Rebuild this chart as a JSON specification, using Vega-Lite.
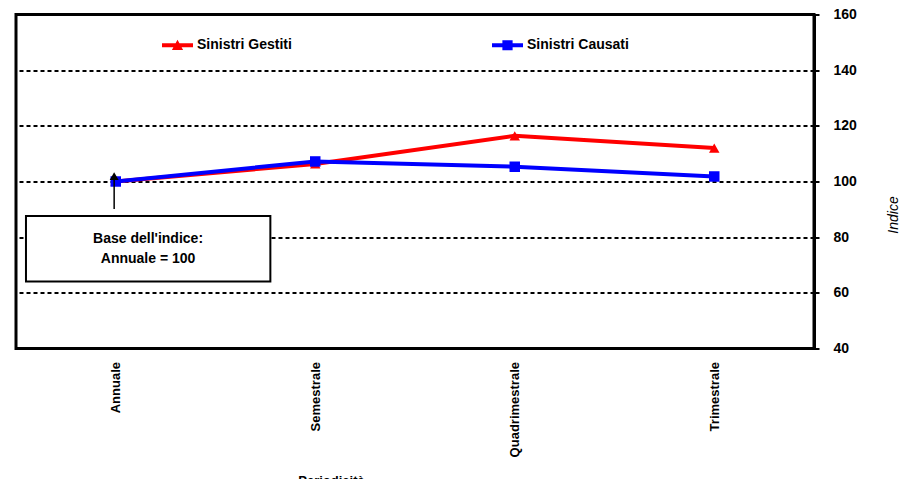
{
  "$schema": "https://vega.github.io/schema/vega-lite/v6.json",
  "width": 798,
  "height": 334,
  "autosize": {"type": "none"},
  "padding": {"left": 16, "top": 14.5, "right": 91, "bottom": 130.5},
  "background": "white",
  "config": {
    "font": "Liberation Sans",
    "view": {"stroke": "black", "strokeWidth": 3}
  },
  "datasets": {
    "serie": [
      {"periodo": "Annuale", "serie": "Sinistri Gestiti", "indice": 100},
      {"periodo": "Semestrale", "serie": "Sinistri Gestiti", "indice": 106.3},
      {"periodo": "Quadrimestrale", "serie": "Sinistri Gestiti", "indice": 116.4},
      {"periodo": "Trimestrale", "serie": "Sinistri Gestiti", "indice": 112.0},
      {"periodo": "Annuale", "serie": "Sinistri Causati", "indice": 100},
      {"periodo": "Semestrale", "serie": "Sinistri Causati", "indice": 107.2},
      {"periodo": "Quadrimestrale", "serie": "Sinistri Causati", "indice": 105.3},
      {"periodo": "Trimestrale", "serie": "Sinistri Causati", "indice": 101.8}
    ],
    "riquadro": [{"x0": 0.05, "x1": 1.275, "y0": 64.1, "y1": 87.6}],
    "testo": [
      {"tx": 0.662, "ty": 79.3, "riga": "Base dell'indice:"},
      {"tx": 0.662, "ty": 72.2, "riga": "Annuale = 100"}
    ],
    "freccia": [{"ax": 0.492, "ay0": 90.1, "ay1": 101.5, "punta": 101.9}]
  },
  "layer": [
    {
      "data": {"name": "serie"},
      "encoding": {
        "x": {
          "field": "periodo",
          "type": "nominal",
          "sort": ["Annuale", "Semestrale", "Quadrimestrale", "Trimestrale"],
          "scale": {"type": "point", "padding": 0.5},
          "axis": {
            "labelAngle": 270,
            "labelFontWeight": "bold",
            "labelFontSize": 13,
            "labelColor": "black",
            "ticks": false,
            "domain": false,
            "grid": false,
            "labelPadding": 13,
            "title": "Periodicità",
            "titleFontWeight": "bold",
            "titleFontSize": 13,
            "titleColor": "black",
            "titleX": 315,
            "titleY": 126,
            "titleAlign": "center",
            "titleBaseline": "top"
          }
        },
        "y": {
          "field": "indice",
          "type": "quantitative",
          "scale": {"domain": [40, 160], "nice": false, "zero": false},
          "axis": {
            "orient": "right",
            "values": [40, 60, 80, 100, 120, 140, 160],
            "grid": true,
            "gridColor": "black",
            "gridWidth": 2,
            "gridDash": [4, 3],
            "gridOpacity": {"condition": {"test": "datum.value == 40 || datum.value == 160", "value": 0}, "value": 1},
            "domainColor": "black",
            "domainWidth": 3,
            "tickColor": "black",
            "tickWidth": 2,
            "tickSize": 5,
            "labelPadding": 14,
            "labelFontSize": 14,
            "labelFontWeight": "bold",
            "labelColor": "black",
            "labelFlush": false,
            "labelOverlap": false,
            "title": "Indice",
            "titleFontStyle": "italic",
            "titleFontWeight": "normal",
            "titleFontSize": 14,
            "titleColor": "black",
            "titleAngle": 270,
            "titleX": 79,
            "titleY": 200,
            "titleAlign": "center",
            "titleBaseline": "middle"
          }
        },
        "color": {
          "field": "serie",
          "type": "nominal",
          "scale": {"domain": ["Sinistri Gestiti", "Sinistri Causati"], "range": ["#ff0000", "#0000ff"]},
          "legend": {
            "orient": "none",
            "legendX": 146,
            "legendY": 15,
            "direction": "horizontal",
            "title": null,
            "padding": 0,
            "labelFont": "Liberation Sans",
            "labelFontSize": 14,
            "labelFontWeight": "bold",
            "labelColor": "black",
            "labelOffset": 4,
            "symbolSize": 961,
            "symbolOpacity": 1,
            "symbolStrokeWidth": 0,
            "columnPadding": 200,
            "encode": {
              "symbols": {
                "update": {
                  "opacity": {"value": 1},
                  "fillOpacity": {"value": 1}
                }
              }
            }
          }
        }
      },
      "layer": [
        {
          "mark": {"type": "line", "strokeWidth": 4}
        },
        {
          "mark": {"type": "point", "filled": true, "opacity": 0},
          "encoding": {
            "shape": {
              "field": "serie",
              "type": "nominal",
              "scale": {
                "domain": ["Sinistri Gestiti", "Sinistri Causati"],
                "range": [
                  "M-1,-0.13H1V0.13H-1Z M-0.36,0.3L0,-0.36L0.36,0.3Z",
                  "M-1,-0.13H1V0.13H-1Z M-0.33,-0.33H0.33V0.33H-0.33Z"
                ]
              }
            }
          }
        },
        {
          "transform": [{"filter": "datum.serie === 'Sinistri Gestiti'"}],
          "mark": {"type": "point", "shape": "triangle-up", "filled": true, "opacity": 1, "size": 110}
        },
        {
          "transform": [{"filter": "datum.serie === 'Sinistri Causati'"}],
          "mark": {"type": "point", "shape": "square", "filled": true, "opacity": 1, "size": 110}
        }
      ]
    },
    {
      "layer": [
        {
          "data": {"name": "riquadro"},
          "mark": {"type": "rect", "fill": "white", "stroke": "black", "strokeWidth": 2},
          "encoding": {
            "x": {"field": "x0", "type": "quantitative", "scale": {"domain": [0, 4], "nice": false, "zero": false}, "axis": null},
            "x2": {"field": "x1"},
            "y": {"field": "y0", "type": "quantitative"},
            "y2": {"field": "y1"}
          }
        },
        {
          "data": {"name": "testo"},
          "mark": {"type": "text", "fontWeight": "bold", "fontSize": 14, "color": "black", "baseline": "middle", "align": "center"},
          "encoding": {
            "x": {"field": "tx", "type": "quantitative", "scale": {"domain": [0, 4], "nice": false, "zero": false}, "axis": null},
            "y": {"field": "ty", "type": "quantitative"},
            "text": {"field": "riga"}
          }
        },
        {
          "data": {"name": "freccia"},
          "mark": {"type": "rule", "color": "black", "strokeWidth": 1.5},
          "encoding": {
            "x": {"field": "ax", "type": "quantitative", "scale": {"domain": [0, 4], "nice": false, "zero": false}, "axis": null},
            "y": {"field": "ay0", "type": "quantitative"},
            "y2": {"field": "ay1"}
          }
        },
        {
          "data": {"name": "freccia"},
          "mark": {"type": "point", "shape": "triangle-up", "filled": true, "color": "black", "opacity": 1, "size": 80},
          "encoding": {
            "x": {"field": "ax", "type": "quantitative", "scale": {"domain": [0, 4], "nice": false, "zero": false}, "axis": null},
            "y": {"field": "punta", "type": "quantitative"}
          }
        }
      ]
    }
  ],
  "resolve": {"scale": {"x": "independent"}}
}
